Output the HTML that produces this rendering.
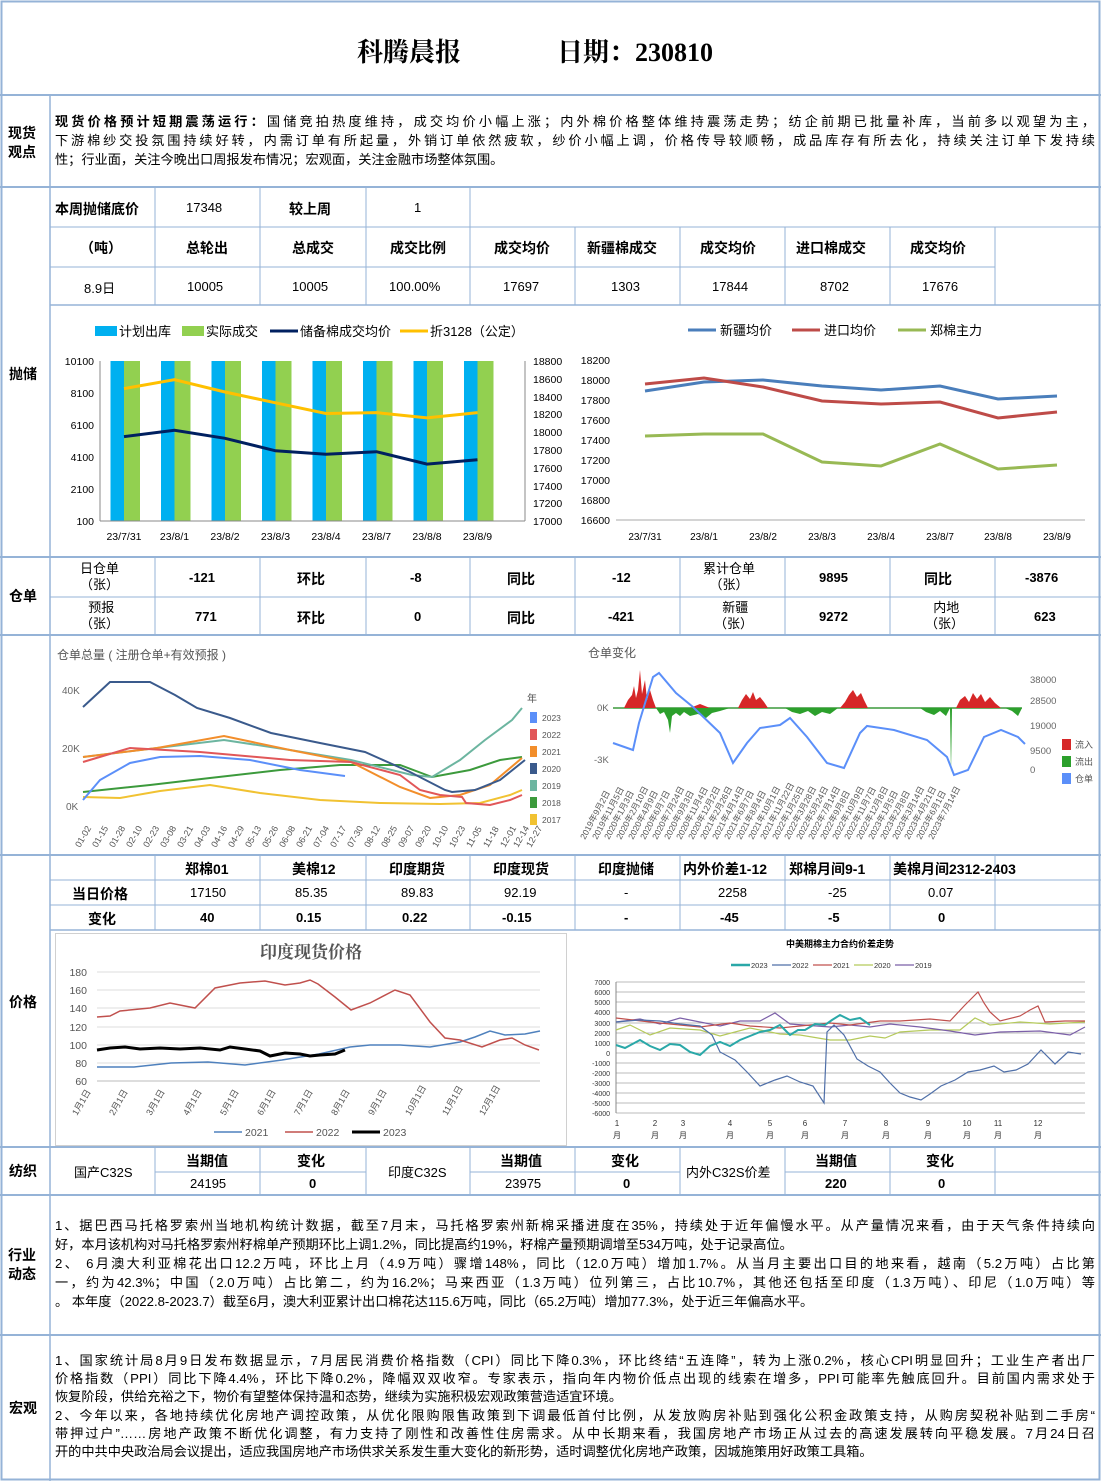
<!DOCTYPE html>
<html><head><meta charset="utf-8"><style>
body{margin:0;background:#fff;}
#p{position:relative;width:1101px;height:1481px;overflow:hidden;font-family:"Liberation Sans","Noto Sans CJK SC",sans-serif;color:#000;}
.t{position:absolute;white-space:nowrap;}
.ln{position:absolute;left:55px;width:1040px;font-size:13.2px;white-space:nowrap;text-align:justify;text-align-last:justify;line-height:18px;}
.ll{text-align-last:left;}
svg text{font-family:"Liberation Sans","Noto Sans CJK SC",sans-serif;}
</style></head><body><div id="p">
<svg width="1101" height="1481" style="position:absolute;left:0;top:0">
<g stroke="#95b3d7" stroke-width="1" fill="none">
<rect x="1.5" y="1.5" width="1098" height="1478" stroke-width="2"/>
<line x1="50" y1="95" x2="50" y2="1481" stroke-width="1.5"/>
<line x1="0" y1="95" x2="1101" y2="95" stroke-width="2"/>
<line x1="0" y1="187" x2="1101" y2="187" stroke-width="2"/>
<line x1="0" y1="557" x2="1101" y2="557" stroke-width="2"/>
<line x1="0" y1="635" x2="1101" y2="635" stroke-width="2"/>
<line x1="0" y1="855" x2="1101" y2="855" stroke-width="2"/>
<line x1="0" y1="1147" x2="1101" y2="1147" stroke-width="2"/>
<line x1="0" y1="1195" x2="1101" y2="1195" stroke-width="2"/>
<line x1="0" y1="1335" x2="1101" y2="1335" stroke-width="2"/>
<line x1="50" y1="227" x2="1101" y2="227"/>
<line x1="50" y1="267" x2="995" y2="267"/>
<line x1="50" y1="305" x2="1101" y2="305" stroke-width="1.5"/>
<line x1="155" y1="187" x2="155" y2="305"/><line x1="260" y1="187" x2="260" y2="305"/><line x1="366" y1="187" x2="366" y2="305"/><line x1="470" y1="187" x2="470" y2="305"/>
<line x1="575" y1="227" x2="575" y2="305"/><line x1="680" y1="227" x2="680" y2="305"/><line x1="785" y1="227" x2="785" y2="305"/><line x1="890" y1="227" x2="890" y2="305"/><line x1="995" y1="227" x2="995" y2="305"/>
<line x1="50" y1="597" x2="1101" y2="597"/>
<g><line x1="155" y1="557" x2="155" y2="635"/><line x1="260" y1="557" x2="260" y2="635"/><line x1="366" y1="557" x2="366" y2="635"/><line x1="470" y1="557" x2="470" y2="635"/><line x1="575" y1="557" x2="575" y2="635"/><line x1="680" y1="557" x2="680" y2="635"/><line x1="785" y1="557" x2="785" y2="635"/><line x1="890" y1="557" x2="890" y2="635"/><line x1="995" y1="557" x2="995" y2="635"/></g>
<line x1="50" y1="880" x2="1101" y2="880"/><line x1="50" y1="905" x2="1101" y2="905"/><line x1="50" y1="930" x2="1101" y2="930" stroke-width="1.5"/>
<g><line x1="155" y1="855" x2="155" y2="930"/><line x1="260" y1="855" x2="260" y2="930"/><line x1="366" y1="855" x2="366" y2="930"/><line x1="470" y1="855" x2="470" y2="930"/><line x1="575" y1="855" x2="575" y2="930"/><line x1="680" y1="855" x2="680" y2="930"/><line x1="785" y1="855" x2="785" y2="930"/><line x1="890" y1="855" x2="890" y2="930"/><line x1="995" y1="855" x2="995" y2="930"/></g>
<g><line x1="155" y1="1147" x2="155" y2="1195"/><line x1="260" y1="1147" x2="260" y2="1195"/><line x1="366" y1="1147" x2="366" y2="1195"/><line x1="470" y1="1147" x2="470" y2="1195"/><line x1="575" y1="1147" x2="575" y2="1195"/><line x1="680" y1="1147" x2="680" y2="1195"/><line x1="785" y1="1147" x2="785" y2="1195"/><line x1="890" y1="1147" x2="890" y2="1195"/><line x1="995" y1="1147" x2="995" y2="1195"/>
<line x1="155" y1="1172" x2="366" y2="1172"/><line x1="470" y1="1172" x2="680" y2="1172"/><line x1="785" y1="1172" x2="1101" y2="1172"/></g>
</g>
<!-- chart1 -->
<g>
<rect x="95" y="326" width="22" height="10" fill="#00b0f0"/><text x="119" y="336" font-size="13">计划出库</text>
<rect x="182" y="326" width="22" height="10" fill="#92d050"/><text x="206" y="336" font-size="13">实际成交</text>
<line x1="270" y1="331" x2="298" y2="331" stroke="#002060" stroke-width="3"/><text x="300" y="336" font-size="13">储备棉成交均价</text>
<line x1="400" y1="331" x2="428" y2="331" stroke="#ffc000" stroke-width="3"/><text x="430" y="336" font-size="13">折3128（公定）</text>
<g fill="#00b0f0"><rect x="110.5" y="361" width="13.5" height="160"/><rect x="161" y="361" width="13.5" height="160"/><rect x="211.5" y="361" width="13.5" height="160"/><rect x="262" y="361" width="13.5" height="160"/><rect x="312.5" y="361" width="13.5" height="160"/><rect x="363" y="361" width="13.5" height="160"/><rect x="413.5" y="361" width="13.5" height="160"/><rect x="464" y="361" width="13.5" height="160"/></g>
<g fill="#92d050"><rect x="124" y="361" width="16" height="160"/><rect x="174.5" y="361" width="16" height="160"/><rect x="225" y="361" width="16" height="160"/><rect x="275.5" y="361" width="16" height="160"/><rect x="326" y="361" width="16" height="160"/><rect x="376.5" y="361" width="16" height="160"/><rect x="427" y="361" width="16" height="160"/><rect x="477.5" y="361" width="16" height="160"/></g>
<polyline fill="none" stroke="#ffc000" stroke-width="3" points="124,388.6 174.5,379.7 225,392 275.5,402.8 326,413.5 376.5,412.6 427,417.9 477.5,412.6"/>
<polyline fill="none" stroke="#002060" stroke-width="3" points="124,436.6 174.5,430.3 225,438.3 275.5,450.8 326,454.3 376.5,451.7 427,464.1 477.5,459.7"/>
<g stroke="#888" fill="none"><line x1="100" y1="361" x2="100" y2="521"/><line x1="100" y1="521" x2="525" y2="521"/><line x1="525" y1="361" x2="525" y2="521"/></g>
<g font-size="10.5" text-anchor="end"><text x="94" y="365">10100</text><text x="94" y="397">8100</text><text x="94" y="429">6100</text><text x="94" y="461">4100</text><text x="94" y="493">2100</text><text x="94" y="525">100</text></g>
<g font-size="10.5"><text x="533" y="365">18800</text><text x="533" y="383">18600</text><text x="533" y="401">18400</text><text x="533" y="418">18200</text><text x="533" y="436">18000</text><text x="533" y="454">17800</text><text x="533" y="472">17600</text><text x="533" y="490">17400</text><text x="533" y="507">17200</text><text x="533" y="525">17000</text></g>
<g font-size="10.5" text-anchor="middle"><text x="124" y="540">23/7/31</text><text x="174.5" y="540">23/8/1</text><text x="225" y="540">23/8/2</text><text x="275.5" y="540">23/8/3</text><text x="326" y="540">23/8/4</text><text x="376.5" y="540">23/8/7</text><text x="427" y="540">23/8/8</text><text x="477.5" y="540">23/8/9</text></g>
</g>
<!-- chart2 -->
<g>
<line x1="688" y1="330" x2="716" y2="330" stroke="#4a7ebb" stroke-width="3"/><text x="720" y="335" font-size="13">新疆均价</text>
<line x1="792" y1="330" x2="820" y2="330" stroke="#be4b48" stroke-width="3"/><text x="824" y="335" font-size="13">进口均价</text>
<line x1="898" y1="330" x2="926" y2="330" stroke="#98b954" stroke-width="3"/><text x="930" y="335" font-size="13">郑棉主力</text>
<g font-size="10.5" text-anchor="end"><text x="610" y="364">18200</text><text x="610" y="384">18000</text><text x="610" y="404">17800</text><text x="610" y="424">17600</text><text x="610" y="444">17400</text><text x="610" y="464">17200</text><text x="610" y="484">17000</text><text x="610" y="504">16800</text><text x="610" y="524">16600</text></g>
<line x1="616" y1="520" x2="1085" y2="520" stroke="#aaa"/>
<polyline fill="none" stroke="#4a7ebb" stroke-width="3" points="645,391 704,382 763,380 822,386 881,390 940,386 998,399 1057,396"/>
<polyline fill="none" stroke="#be4b48" stroke-width="3" points="645,384 704,378 763,387 822,401 881,404 940,402 998,418 1057,412"/>
<polyline fill="none" stroke="#98b954" stroke-width="3" points="645,436 704,434 763,434 822,462 881,466 940,444 998,469 1057,465"/>
<g font-size="10" text-anchor="middle"><text x="645" y="540">23/7/31</text><text x="704" y="540">23/8/1</text><text x="763" y="540">23/8/2</text><text x="822" y="540">23/8/3</text><text x="881" y="540">23/8/4</text><text x="940" y="540">23/8/7</text><text x="998" y="540">23/8/8</text><text x="1057" y="540">23/8/9</text></g>
</g>
<!-- chart3 -->
<g>
<text x="57" y="659" font-size="12" fill="#555">仓单总量 ( 注册仓单+有效预报 )</text>
<g font-size="10" fill="#666"><text x="62" y="694">40K</text><text x="62" y="752">20K</text><text x="66" y="810">0K</text></g>
<g fill="none" stroke-width="2">
<polyline stroke="#f1c232" points="83,797 120,798 160,791 210,785 260,793 320,800 380,803 440,804 480,803 510,795 522,790"/>
<polyline stroke="#3c9a3c" points="83,792 150,785 210,778 280,770 340,765 400,765 432,777 470,770 500,760 522,757"/>
<polyline stroke="#6cb5a0" points="83,757 157,748 224,740 290,750 351,760 412,775 432,777 460,760 485,740 512,720 522,708"/>
<polyline stroke="#f28e2b" points="83,757 157,748 224,736 290,750 351,762 400,787 430,798 460,795 490,785 522,758"/>
<polyline stroke="#e15759" points="83,762 130,748 200,752 290,760 351,762 400,775 420,790 440,795 462,797 466,803 490,805 510,800 522,795"/>
<polyline stroke="#3a5a8c" points="83,707 110,682 150,682 175,695 197,708 230,718 271,733 320,743 365,752 410,772 445,790 452,792 475,790 500,780 525,760"/>
<polyline stroke="#5b8ff9" points="83,800 100,780 130,763 160,757 200,756 250,760 300,770 345,776"/>
</g>
<text x="527" y="702" font-size="10" fill="#555">年</text>
<g font-size="8.5" fill="#555"><rect x="530" y="712" width="7" height="11" fill="#5b8ff9"/><text x="542" y="721">2023</text>
<rect x="530" y="729" width="7" height="11" fill="#e15759"/><text x="542" y="738">2022</text>
<rect x="530" y="746" width="7" height="11" fill="#f28e2b"/><text x="542" y="755">2021</text>
<rect x="530" y="763" width="7" height="11" fill="#3a5a8c"/><text x="542" y="772">2020</text>
<rect x="530" y="780" width="7" height="11" fill="#6cb5a0"/><text x="542" y="789">2019</text>
<rect x="530" y="797" width="7" height="11" fill="#3c9a3c"/><text x="542" y="806">2018</text>
<rect x="530" y="814" width="7" height="11" fill="#f1c232"/><text x="542" y="823">2017</text></g>
<g font-size="9" fill="#555">
<text transform="translate(80,848) rotate(-60)">01-02</text><text transform="translate(97,848) rotate(-60)">01-15</text><text transform="translate(114,848) rotate(-60)">01-28</text><text transform="translate(131,848) rotate(-60)">02-10</text><text transform="translate(148,848) rotate(-60)">02-23</text><text transform="translate(165,848) rotate(-60)">03-08</text><text transform="translate(182,848) rotate(-60)">03-21</text><text transform="translate(199,848) rotate(-60)">04-03</text><text transform="translate(216,848) rotate(-60)">04-16</text><text transform="translate(233,848) rotate(-60)">04-29</text><text transform="translate(250,848) rotate(-60)">05-13</text><text transform="translate(267,848) rotate(-60)">05-26</text><text transform="translate(284,848) rotate(-60)">06-08</text><text transform="translate(301,848) rotate(-60)">06-21</text><text transform="translate(318,848) rotate(-60)">07-04</text><text transform="translate(335,848) rotate(-60)">07-17</text><text transform="translate(352,848) rotate(-60)">07-30</text><text transform="translate(369,848) rotate(-60)">08-12</text><text transform="translate(386,848) rotate(-60)">08-25</text><text transform="translate(403,848) rotate(-60)">09-07</text><text transform="translate(420,848) rotate(-60)">09-20</text><text transform="translate(437,848) rotate(-60)">10-10</text><text transform="translate(454,848) rotate(-60)">10-23</text><text transform="translate(471,848) rotate(-60)">11-05</text><text transform="translate(488,848) rotate(-60)">11-18</text><text transform="translate(505,848) rotate(-60)">12-01</text><text transform="translate(518,848) rotate(-60)">12-14</text><text transform="translate(531,848) rotate(-60)">12-27</text>
</g>
</g>
<!-- chart4 -->
<g>
<text x="588" y="657" font-size="12" fill="#555">仓单变化</text>
<g font-size="9.5" fill="#666"><text x="597" y="711">0K</text><text x="594" y="763">-3K</text>
<text x="1030" y="683">38000</text><text x="1030" y="704">28500</text><text x="1030" y="729">19000</text><text x="1030" y="754">9500</text><text x="1030" y="773">0</text></g>
<line x1="613" y1="708" x2="1022" y2="708" stroke="#3c9a3c" stroke-width="1.5"/>
<g fill="#d62728">
<polygon points="624,708 628,700 632,695 634,686 636,698 638,690 640,670 642,694 645,680 647,700 650,690 653,700 656,708"/>
<polygon points="738,708 742,700 746,694 750,699 753,692 756,700 760,697 764,702 768,708"/>
<polygon points="840,708 845,702 849,695 853,690 857,697 861,693 864,700 868,708"/>
<polygon points="956,708 960,700 965,696 969,702 973,693 977,699 981,694 985,702 990,697 995,703 1001,708"/>
<polygon points="690,708 700,704 710,708"/>
</g>
<g fill="#2ca02c">
<polygon points="656,708 660,714 664,712 668,720 670,733 672,716 676,713 680,716 684,712 690,716 698,714 706,718 712,713 720,711 730,708"/>
<polygon points="785,708 792,712 800,714 808,711 815,716 822,712 830,714 838,708"/>
<polygon points="920,708 926,712 934,715 940,711 946,716 950,708 951,773 952,708"/>
<polygon points="1005,708 1012,711 1018,716 1022,708"/>
</g>
<polyline fill="none" stroke="#5b8ff9" stroke-width="2" points="613,743 633,750 639,723 653,677 659,673 676,693 693,707 720,733 733,763 747,743 760,728 780,725 790,718 807,737 827,763 844,768 860,733 867,726 894,730 927,740 947,757 954,775 968,770 984,737 1001,730 1018,737 1025,744"/>
<g font-size="9" fill="#555"><rect x="1062" y="739" width="9" height="11" fill="#d62728"/><text x="1075" y="748">流入</text>
<rect x="1062" y="756" width="9" height="11" fill="#2ca02c"/><text x="1075" y="765">流出</text>
<rect x="1062" y="773" width="9" height="11" fill="#5b8ff9"/><text x="1075" y="782">仓单</text></g>
<g font-size="8.5" fill="#555">
<text transform="translate(585,840) rotate(-62)">2019年9月2日</text><text transform="translate(597,840) rotate(-62)">2019年11月5日</text><text transform="translate(609,840) rotate(-62)">2020年1月3日</text><text transform="translate(621,840) rotate(-62)">2020年2月10日</text><text transform="translate(633,840) rotate(-62)">2020年4月9日</text><text transform="translate(645,840) rotate(-62)">2020年6月7日</text><text transform="translate(657,840) rotate(-62)">2020年7月24日</text><text transform="translate(669,840) rotate(-62)">2020年9月3日</text><text transform="translate(681,840) rotate(-62)">2020年11月4日</text><text transform="translate(693,840) rotate(-62)">2020年12月2日</text><text transform="translate(705,840) rotate(-62)">2021年2月26日</text><text transform="translate(717,840) rotate(-62)">2021年4月14日</text><text transform="translate(729,840) rotate(-62)">2021年6月7日</text><text transform="translate(741,840) rotate(-62)">2021年8月4日</text><text transform="translate(753,840) rotate(-62)">2021年10月1日</text><text transform="translate(765,840) rotate(-62)">2021年11月22日</text><text transform="translate(777,840) rotate(-62)">2022年1月25日</text><text transform="translate(789,840) rotate(-62)">2022年3月28日</text><text transform="translate(801,840) rotate(-62)">2022年5月24日</text><text transform="translate(813,840) rotate(-62)">2022年7月14日</text><text transform="translate(825,840) rotate(-62)">2022年9月8日</text><text transform="translate(837,840) rotate(-62)">2022年10月9日</text><text transform="translate(849,840) rotate(-62)">2022年11月7日</text><text transform="translate(861,840) rotate(-62)">2022年12月8日</text><text transform="translate(873,840) rotate(-62)">2023年1月5日</text><text transform="translate(885,840) rotate(-62)">2023年2月8日</text><text transform="translate(897,840) rotate(-62)">2023年3月14日</text><text transform="translate(909,840) rotate(-62)">2023年4月21日</text><text transform="translate(921,840) rotate(-62)">2023年6月1日</text><text transform="translate(933,840) rotate(-62)">2023年7月14日</text>
</g>
</g>
<!-- chart5 -->
<g>
<rect x="55.5" y="933.5" width="511" height="212" fill="none" stroke="#d0d0d0"/>
<text x="311" y="958" font-size="17" font-weight="bold" fill="#555" text-anchor="middle" style="font-family:'Liberation Serif','Noto Serif CJK SC',serif">印度现货价格</text>
<g stroke="#ddd"><line x1="97" y1="972" x2="540" y2="972"/><line x1="97" y1="990" x2="540" y2="990"/><line x1="97" y1="1008" x2="540" y2="1008"/><line x1="97" y1="1027" x2="540" y2="1027"/><line x1="97" y1="1045" x2="540" y2="1045"/><line x1="97" y1="1063" x2="540" y2="1063"/></g>
<line x1="97" y1="1081" x2="540" y2="1081" stroke="#bbb"/>
<g font-size="10.5" fill="#555" text-anchor="end"><text x="87" y="976">180</text><text x="87" y="994">160</text><text x="87" y="1012">140</text><text x="87" y="1031">120</text><text x="87" y="1049">100</text><text x="87" y="1067">80</text><text x="87" y="1085">60</text></g>
<polyline fill="none" stroke="#4f81bd" stroke-width="1.5" points="97,1067 134,1067 171,1063 208,1062 245,1065 282,1060 319,1054 350,1047 370,1045 400,1045 430,1047 460,1042 475,1037 490,1031 505,1035 525,1034 540,1031"/>
<polyline fill="none" stroke="#c0504d" stroke-width="1.5" points="97,1017 110,1016 120,1011 150,1008 170,1003 195,1008 215,988 240,983 265,981 285,985 300,983 310,980 318,984 335,997 351,1010 370,1003 395,990 410,995 430,1022 445,1038 460,1040 482,1047 500,1040 512,1038 525,1045 539,1050"/>
<polyline fill="none" stroke="#000" stroke-width="3" points="97,1050 110,1048 125,1047 140,1049 160,1048 180,1049 200,1048 220,1050 230,1047 245,1049 260,1051 270,1056 285,1053 300,1054 310,1056 320,1055 335,1054 345,1050"/>
<g font-size="9" fill="#555">
<text transform="translate(77,1116) rotate(-60)">1月1日</text><text transform="translate(114,1116) rotate(-60)">2月1日</text><text transform="translate(151,1116) rotate(-60)">3月1日</text><text transform="translate(188,1116) rotate(-60)">4月1日</text><text transform="translate(225,1116) rotate(-60)">5月1日</text><text transform="translate(262,1116) rotate(-60)">6月1日</text><text transform="translate(299,1116) rotate(-60)">7月1日</text><text transform="translate(336,1116) rotate(-60)">8月1日</text><text transform="translate(373,1116) rotate(-60)">9月1日</text><text transform="translate(410,1116) rotate(-60)">10月1日</text><text transform="translate(447,1116) rotate(-60)">11月1日</text><text transform="translate(484,1116) rotate(-60)">12月1日</text>
</g>
<g font-size="10.5" fill="#555"><line x1="214" y1="1132" x2="242" y2="1132" stroke="#4f81bd" stroke-width="1.5"/><text x="245" y="1136">2021</text>
<line x1="285" y1="1132" x2="313" y2="1132" stroke="#c0504d" stroke-width="1.5"/><text x="316" y="1136">2022</text>
<line x1="352" y1="1132" x2="380" y2="1132" stroke="#000" stroke-width="3"/><text x="383" y="1136">2023</text></g>
</g>
<!-- chart6 -->
<g>
<text x="840" y="947" font-size="9" font-weight="bold" text-anchor="middle">中美期棉主力合约价差走势</text>
<g font-size="7.5" fill="#333">
<line x1="731" y1="965" x2="750" y2="965" stroke="#2aa8a8" stroke-width="2.5"/><text x="751" y="968">2023</text>
<line x1="772" y1="965" x2="791" y2="965" stroke="#4f6fa8" stroke-width="1.2"/><text x="792" y="968">2022</text>
<line x1="813" y1="965" x2="832" y2="965" stroke="#c0504d" stroke-width="1.2"/><text x="833" y="968">2021</text>
<line x1="854" y1="965" x2="873" y2="965" stroke="#b5c95b" stroke-width="1.2"/><text x="874" y="968">2020</text>
<line x1="895" y1="965" x2="914" y2="965" stroke="#7b5fa8" stroke-width="1.2"/><text x="915" y="968">2019</text>
</g>
<g stroke="#bbb" stroke-width="1">
<line x1="616" y1="982" x2="1085" y2="982"/><line x1="616" y1="992" x2="1085" y2="992"/><line x1="616" y1="1002" x2="1085" y2="1002"/><line x1="616" y1="1012" x2="1085" y2="1012"/><line x1="616" y1="1023" x2="1085" y2="1023"/><line x1="616" y1="1033" x2="1085" y2="1033"/><line x1="616" y1="1043" x2="1085" y2="1043"/><line x1="616" y1="1053" x2="1085" y2="1053"/><line x1="616" y1="1063" x2="1085" y2="1063"/><line x1="616" y1="1073" x2="1085" y2="1073"/><line x1="616" y1="1083" x2="1085" y2="1083"/><line x1="616" y1="1093" x2="1085" y2="1093"/><line x1="616" y1="1103" x2="1085" y2="1103"/><line x1="616" y1="1113" x2="1085" y2="1113"/>
</g>
<line x1="616" y1="982" x2="616" y2="1113" stroke="#888"/>
<g font-size="7" text-anchor="end" fill="#333"><text x="610" y="985">7000</text><text x="610" y="995">6000</text><text x="610" y="1005">5000</text><text x="610" y="1015">4000</text><text x="610" y="1026">3000</text><text x="610" y="1036">2000</text><text x="610" y="1046">1000</text><text x="610" y="1056">0</text><text x="610" y="1066">-1000</text><text x="610" y="1076">-2000</text><text x="610" y="1086">-3000</text><text x="610" y="1096">-4000</text><text x="610" y="1106">-5000</text><text x="610" y="1116">-6000</text></g>
<g fill="none" stroke-width="1.2">
<polyline stroke="#b5c95b" points="616,1030 630,1025 650,1035 670,1028 700,1030 720,1036 750,1028 780,1034 800,1035 830,1040 850,1040 870,1036 885,1038 900,1032 930,1030 960,1030 975,1018 990,1025 1020,1022 1050,1024 1085,1022"/>
<polyline stroke="#7b5fa8" points="616,1022 640,1019 660,1024 680,1018 700,1022 720,1026 740,1021 760,1021 775,1013 790,1024 830,1027 850,1025 870,1027 890,1024 920,1027 950,1031 975,1035 1000,1032 1040,1031 1070,1035 1085,1027"/>
<polyline stroke="#c0504d" points="616,1018 650,1022 680,1025 700,1027 730,1023 750,1026 780,1028 800,1026 830,1023 850,1025 880,1021 900,1021 930,1019 950,1021 965,1005 970,1000 978,992 984,1003 990,1012 1000,1021 1020,1016 1030,1010 1038,1006 1045,1022 1065,1021 1085,1021"/>
<polyline stroke="#4f6fa8" points="616,1022 640,1020 660,1021 680,1024 700,1026 712,1035 720,1052 735,1060 747,1072 760,1086 775,1080 787,1076 800,1082 813,1086 824,1103 827,1032 834,1025 844,1035 857,1059 868,1066 880,1072 890,1083 900,1093 910,1097 921,1100 930,1094 941,1086 955,1080 968,1072 980,1070 994,1066 1004,1072 1016,1070 1028,1064 1041,1050 1055,1064 1068,1052 1081,1054"/>
<polyline stroke="#2aa8a8" stroke-width="2" points="616,1045 625,1048 640,1040 650,1046 660,1050 670,1044 680,1045 690,1052 700,1055 710,1046 720,1042 730,1046 740,1040 750,1036 760,1032 770,1030 780,1025 790,1035 798,1030 805,1030 815,1024 825,1025 832,1020 840,1015 850,1020 860,1018 870,1025"/>
</g>
<g font-size="8" text-anchor="middle" fill="#333">
<text x="617" y="1126">1</text><text x="617" y="1138">月</text><text x="655" y="1126">2</text><text x="655" y="1138">月</text><text x="683" y="1126">3</text><text x="683" y="1138">月</text><text x="730" y="1126">4</text><text x="730" y="1138">月</text><text x="770" y="1126">5</text><text x="770" y="1138">月</text><text x="805" y="1126">6</text><text x="805" y="1138">月</text><text x="845" y="1126">7</text><text x="845" y="1138">月</text><text x="886" y="1126">8</text><text x="886" y="1138">月</text><text x="928" y="1126">9</text><text x="928" y="1138">月</text><text x="967" y="1126">10</text><text x="967" y="1138">月</text><text x="998" y="1126">11</text><text x="998" y="1138">月</text><text x="1038" y="1126">12</text><text x="1038" y="1138">月</text>
</g>
</g>
</svg>

<div class="t" style="left:357px;top:32px;font-size:26px;font-weight:bold;font-family:'Liberation Serif','Noto Serif CJK SC',serif;">科腾晨报</div>
<div class="t" style="left:557px;top:32px;font-size:26px;font-weight:bold;font-family:'Liberation Serif','Noto Serif CJK SC',serif;">日期：230810</div>

<div class="t" style="left:8px;top:124px;font-size:14px;font-weight:bold;line-height:19px;">现货<br>观点</div>
<div class="ln" style="top:113px"><b>现货价格预计短期震荡运行：</b>国储竞拍热度维持，成交均价小幅上涨；内外棉价格整体维持震荡走势；纺企前期已批量补库，当前多以观望为主，</div>
<div class="ln" style="top:132px">下游棉纱交投氛围持续好转，内需订单有所起量，外销订单依然疲软，纱价小幅上调，价格传导较顺畅，成品库存有所去化，持续关注订单下发持续</div>
<div class="ln ll" style="top:151px">性；行业面，关注今晚出口周报发布情况；宏观面，关注金融市场整体氛围。</div>

<div class="t" style="left:9px;top:364px;font-size:14px;font-weight:bold;">抛储</div>
<div class="t" style="left:9px;top:586px;font-size:14px;font-weight:bold;">仓单</div>
<div class="t" style="left:9px;top:992px;font-size:14px;font-weight:bold;">价格</div>
<div class="t" style="left:9px;top:1161px;font-size:14px;font-weight:bold;">纺织</div>
<div class="t" style="left:8px;top:1246px;font-size:14px;font-weight:bold;line-height:19px;">行业<br>动态</div>
<div class="t" style="left:9px;top:1398px;font-size:14px;font-weight:bold;">宏观</div>

<div style="position:absolute;left:0;top:0;font-size:13px;">
<div class="t" style="left:55px;top:199px;font-weight:bold;font-size:14px">本周抛储底价</div>
<div class="t" style="left:186px;top:200px">17348</div>
<div class="t" style="left:289px;top:199px;font-weight:bold;font-size:14px">较上周</div>
<div class="t" style="left:414px;top:200px">1</div>
<div class="t" style="left:80px;top:238px;font-weight:bold;font-size:14px">（吨）</div>
<div class="t" style="left:186px;top:238px;font-weight:bold;font-size:14px">总轮出</div>
<div class="t" style="left:292px;top:238px;font-weight:bold;font-size:14px">总成交</div>
<div class="t" style="left:390px;top:238px;font-weight:bold;font-size:14px">成交比例</div>
<div class="t" style="left:494px;top:238px;font-weight:bold;font-size:14px">成交均价</div>
<div class="t" style="left:587px;top:238px;font-weight:bold;font-size:14px">新疆棉成交</div>
<div class="t" style="left:700px;top:238px;font-weight:bold;font-size:14px">成交均价</div>
<div class="t" style="left:796px;top:238px;font-weight:bold;font-size:14px">进口棉成交</div>
<div class="t" style="left:910px;top:238px;font-weight:bold;font-size:14px">成交均价</div>
<div class="t" style="left:84px;top:278px">8.9日</div>
<div class="t" style="left:187px;top:279px">10005</div>
<div class="t" style="left:292px;top:279px">10005</div>
<div class="t" style="left:389px;top:279px">100.00%</div>
<div class="t" style="left:503px;top:279px">17697</div>
<div class="t" style="left:611px;top:279px">1303</div>
<div class="t" style="left:712px;top:279px">17844</div>
<div class="t" style="left:820px;top:279px">8702</div>
<div class="t" style="left:922px;top:279px">17676</div>
</div>

<div style="position:absolute;left:0;top:0;font-size:13px;">
<div class="t" style="left:80px;top:561px;line-height:16px;text-align:center">日仓单<br>（张）</div>
<div class="t" style="left:189px;top:570px;font-weight:bold">-121</div>
<div class="t" style="left:297px;top:569px;font-weight:bold;font-size:14px">环比</div>
<div class="t" style="left:410px;top:570px;font-weight:bold">-8</div>
<div class="t" style="left:507px;top:569px;font-weight:bold;font-size:14px">同比</div>
<div class="t" style="left:612px;top:570px;font-weight:bold">-12</div>
<div class="t" style="left:703px;top:561px;line-height:16px;text-align:center">累计仓单<br>（张）</div>
<div class="t" style="left:819px;top:570px;font-weight:bold">9895</div>
<div class="t" style="left:924px;top:569px;font-weight:bold;font-size:14px">同比</div>
<div class="t" style="left:1025px;top:570px;font-weight:bold">-3876</div>
<div class="t" style="left:80px;top:600px;line-height:16px;text-align:center">&nbsp;预报<br>（张）</div>
<div class="t" style="left:195px;top:609px;font-weight:bold">771</div>
<div class="t" style="left:297px;top:608px;font-weight:bold;font-size:14px">环比</div>
<div class="t" style="left:414px;top:609px;font-weight:bold">0</div>
<div class="t" style="left:507px;top:608px;font-weight:bold;font-size:14px">同比</div>
<div class="t" style="left:608px;top:609px;font-weight:bold">-421</div>
<div class="t" style="left:714px;top:600px;line-height:16px;text-align:center">&nbsp;新疆<br>（张）</div>
<div class="t" style="left:819px;top:609px;font-weight:bold">9272</div>
<div class="t" style="left:925px;top:600px;line-height:16px;text-align:center">&nbsp;内地<br>（张）</div>
<div class="t" style="left:1034px;top:609px;font-weight:bold">623</div>
</div>

<div style="position:absolute;left:0;top:0;font-size:13px;">
<div class="t" style="left:185px;top:859px;font-weight:bold;font-size:14px">郑棉01</div>
<div class="t" style="left:292px;top:859px;font-weight:bold;font-size:14px">美棉12</div>
<div class="t" style="left:389px;top:859px;font-weight:bold;font-size:14px">印度期货</div>
<div class="t" style="left:493px;top:859px;font-weight:bold;font-size:14px">印度现货</div>
<div class="t" style="left:598px;top:859px;font-weight:bold;font-size:14px">印度抛储</div>
<div class="t" style="left:683px;top:859px;font-weight:bold;font-size:14px">内外价差1-12</div>
<div class="t" style="left:789px;top:859px;font-weight:bold;font-size:14px">郑棉月间9-1</div>
<div class="t" style="left:893px;top:859px;font-weight:bold;font-size:14px">美棉月间2312-2403</div>
<div class="t" style="left:72px;top:884px;font-weight:bold;font-size:14px">当日价格</div>
<div class="t" style="left:190px;top:885px">17150</div>
<div class="t" style="left:295px;top:885px">85.35</div>
<div class="t" style="left:401px;top:885px">89.83</div>
<div class="t" style="left:504px;top:885px">92.19</div>
<div class="t" style="left:624px;top:885px">-</div>
<div class="t" style="left:718px;top:885px">2258</div>
<div class="t" style="left:828px;top:885px">-25</div>
<div class="t" style="left:928px;top:885px">0.07</div>
<div class="t" style="left:88px;top:909px;font-weight:bold;font-size:14px">变化</div>
<div class="t" style="left:200px;top:910px;font-weight:bold">40</div>
<div class="t" style="left:296px;top:910px;font-weight:bold">0.15</div>
<div class="t" style="left:402px;top:910px;font-weight:bold">0.22</div>
<div class="t" style="left:502px;top:910px;font-weight:bold">-0.15</div>
<div class="t" style="left:624px;top:910px;font-weight:bold">-</div>
<div class="t" style="left:720px;top:910px;font-weight:bold">-45</div>
<div class="t" style="left:828px;top:910px;font-weight:bold">-5</div>
<div class="t" style="left:938px;top:910px;font-weight:bold">0</div>
</div>

<div style="position:absolute;left:0;top:0;font-size:13px;">
<div class="t" style="left:74px;top:1162px">国产C32S</div>
<div class="t" style="left:186px;top:1151px;font-weight:bold;font-size:14px">当期值</div>
<div class="t" style="left:297px;top:1151px;font-weight:bold;font-size:14px">变化</div>
<div class="t" style="left:388px;top:1162px">印度C32S</div>
<div class="t" style="left:500px;top:1151px;font-weight:bold;font-size:14px">当期值</div>
<div class="t" style="left:611px;top:1151px;font-weight:bold;font-size:14px">变化</div>
<div class="t" style="left:686px;top:1162px">内外C32S价差</div>
<div class="t" style="left:815px;top:1151px;font-weight:bold;font-size:14px">当期值</div>
<div class="t" style="left:926px;top:1151px;font-weight:bold;font-size:14px">变化</div>
<div class="t" style="left:190px;top:1176px">24195</div>
<div class="t" style="left:309px;top:1176px;font-weight:bold">0</div>
<div class="t" style="left:505px;top:1176px">23975</div>
<div class="t" style="left:623px;top:1176px;font-weight:bold">0</div>
<div class="t" style="left:825px;top:1176px;font-weight:bold">220</div>
<div class="t" style="left:938px;top:1176px;font-weight:bold">0</div>
</div>

<div class="ln" style="top:1217px">1、据巴西马托格罗索州当地机构统计数据，截至7月末，马托格罗索州新棉采播进度在35%，持续处于近年偏慢水平。从产量情况来看，由于天气条件持续向</div>
<div class="ln ll" style="top:1236px">好，本月该机构对马托格罗索州籽棉单产预期环比上调1.2%，同比提高约19%，籽棉产量预期调增至534万吨，处于记录高位。</div>
<div class="ln" style="top:1255px">2、 6月澳大利亚棉花出口12.2万吨，环比上月（4.9万吨）骤增148%，同比（12.0万吨）增加1.7%。从当月主要出口目的地来看，越南（5.2万吨）占比第</div>
<div class="ln" style="top:1274px">一，约为42.3%；中国（2.0万吨）占比第二，约为16.2%；马来西亚（1.3万吨）位列第三，占比10.7%，其他还包括至印度（1.3万吨）、印尼（1.0万吨）等</div>
<div class="ln ll" style="top:1293px">。 本年度（2022.8-2023.7）截至6月，澳大利亚累计出口棉花达115.6万吨，同比（65.2万吨）增加77.3%，处于近三年偏高水平。</div>

<div class="ln" style="top:1352px">1、国家统计局8月9日发布数据显示，7月居民消费价格指数（CPI）同比下降0.3%，环比终结“五连降”，转为上涨0.2%，核心CPI明显回升；工业生产者出厂</div>
<div class="ln" style="top:1370px">价格指数（PPI）同比下降4.4%，环比下降0.2%，降幅双双收窄。专家表示，指向年内物价低点出现的线索在增多，PPI可能率先触底回升。目前国内需求处于</div>
<div class="ln ll" style="top:1388px">恢复阶段，供给充裕之下，物价有望整体保持温和态势，继续为实施积极宏观政策营造适宜环境。</div>
<div class="ln" style="top:1407px">2、今年以来，各地持续优化房地产调控政策，从优化限购限售政策到下调最低首付比例，从发放购房补贴到强化公积金政策支持，从购房契税补贴到二手房“</div>
<div class="ln" style="top:1425px">带押过户”……房地产政策不断优化调整，有力支持了刚性和改善性住房需求。从中长期来看，我国房地产市场正从过去的高速发展转向平稳发展。7月24日召</div>
<div class="ln ll" style="top:1443px">开的中共中央政治局会议提出，适应我国房地产市场供求关系发生重大变化的新形势，适时调整优化房地产政策，因城施策用好政策工具箱。</div>
</div></body></html>
